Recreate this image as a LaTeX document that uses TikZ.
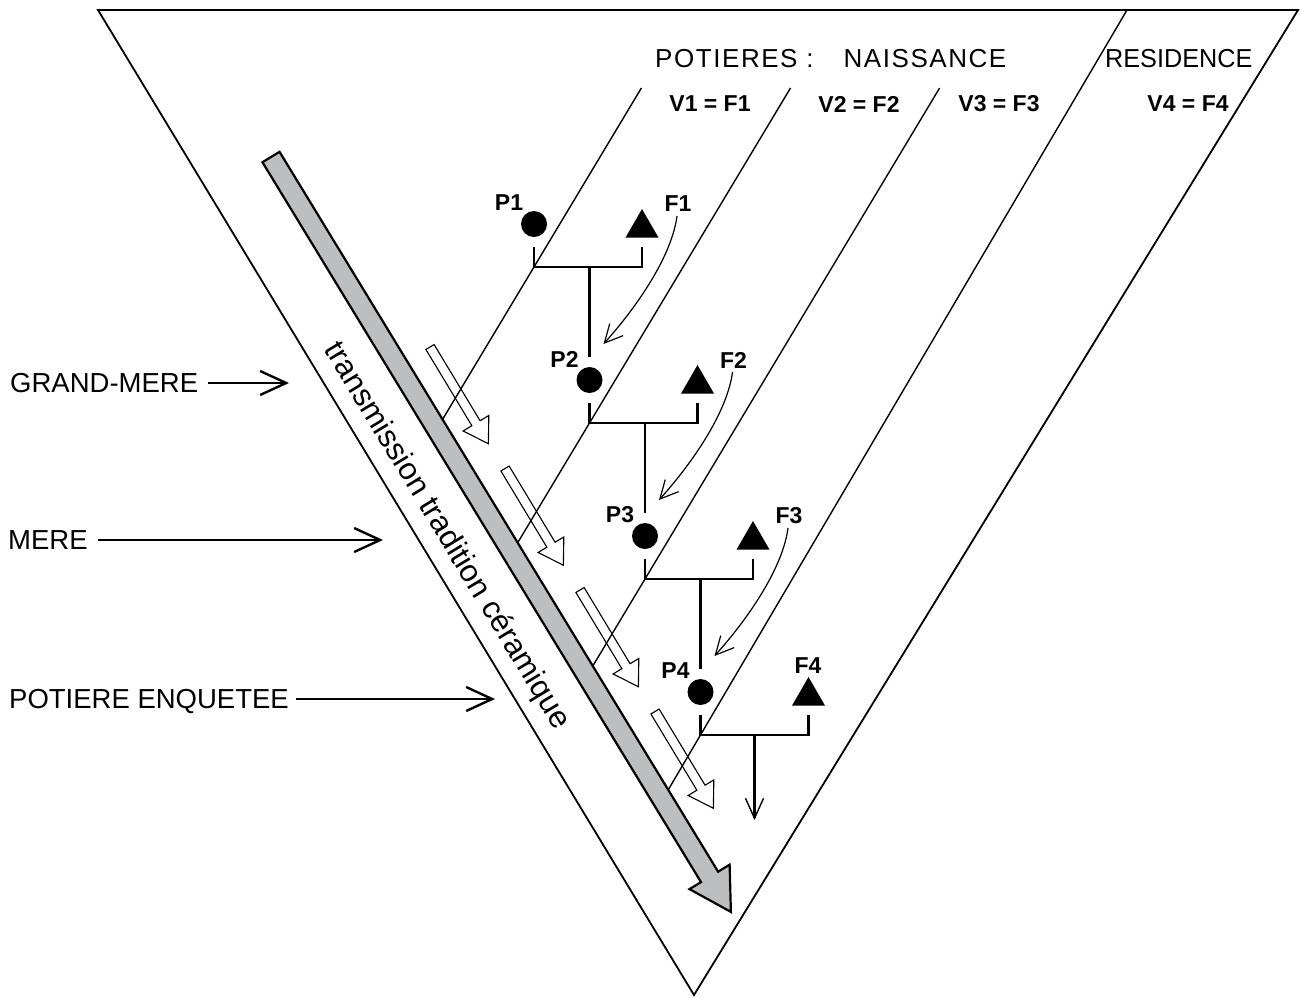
\documentclass[tikz,border=0pt]{standalone}
\usepackage{fontspec}
\setmainfont{Liberation Sans}
\usepackage{graphicx}
\usetikzlibrary{arrows.meta,shapes.geometric,calc}
\definecolor{bandgrey}{HTML}{BCBEC0}
\begin{document}
\begin{tikzpicture}[x=1pt,y=-1pt,
  frame/.style={line width=1.8pt, line join=miter},
  colline/.style={line width=1.4pt},
  bracket/.style={line width=2.4pt},
  pnode/.style={circle, fill=black, minimum size=26pt, inner sep=0pt},
  fnode/.style={regular polygon, regular polygon sides=3, fill=black, minimum size=38pt, inner sep=0pt},
  plabel/.style={font=\fontsize{23}{23}\selectfont\bfseries, inner sep=0pt},
  vlabel/.style={font=\fontsize{23}{23}\selectfont\bfseries, inner sep=0pt},
  toplabel/.style={font=\fontsize{26}{26}\selectfont, inner sep=0pt, text height=18.6pt, text depth=0pt, anchor=west},
  sidelabel/.style={font=\fontsize{27.5}{27.5}\selectfont, inner sep=0pt, text height=19.7pt, text depth=0pt, anchor=west},
  sidearrow/.style={line width=2.4pt, -{Straight Barb[length=26pt,width=24pt,line width=2.4pt]}},
  curvearrow/.style={line width=1.2pt, -{Straight Barb[length=18pt,width=18pt,line width=1.2pt]}},
  downarrow/.style={line width=2.4pt, -{Straight Barb[length=20pt,width=18pt,line width=1.4pt]}},
  hollow/.pic={\draw[line width=1.1pt, line join=miter] (0,-4.8) -- (89,-4.8) -- (89,-15) -- (113,0) -- (89,15) -- (89,4.8) -- (0,4.8) -- cycle;},
]
\useasboundingbox (0,0) rectangle (1300,997);

% outer triangle
\coordinate (tl) at (98,10);
\coordinate (tr) at (1298,10);
\coordinate (apex) at (694,995);
\draw[frame] (tl) -- (tr) -- (apex) -- cycle;

% grey band axis
\coordinate (gtail) at (271,157);
\coordinate (gtip) at (731,912);

% column lines
\coordinate (J1) at (534,267);
\coordinate (J2) at (589.5,423);
\coordinate (J3) at (645,579);
\coordinate (J4) at (700.5,735);
\coordinate (Atop) at (641.4,88);
\coordinate (Btop) at (790.5,88);
\coordinate (Ctop) at (939.6,88);
\coordinate (Dtop) at (1127,10);
\draw[colline] (Atop) -- (intersection of Atop--J1 and gtail--gtip);
\draw[colline] (Btop) -- (intersection of Btop--J2 and gtail--gtip);
\draw[colline] (Ctop) -- (intersection of Ctop--J3 and gtail--gtip);
\draw[colline] (Dtop) -- (intersection of Dtop--J4 and gtail--gtip);

% transmission text
\node[rotate=-58.8, font=\fontsize{31}{31}\selectfont, inner sep=0pt] (trans) at (446.5,536) {transmission tradition céramique};

% grey arrow
\begin{scope}[shift={(gtail)}, rotate=-58.65]
\draw[line width=2.2pt, fill=bandgrey, line join=miter] (0,-10) -- (843,-10) -- (843,-23.5) -- (884,0) -- (843,23.5) -- (843,10) -- (0,10) -- cycle;
\end{scope}

% hollow arrows
\foreach \k in {0,1,2,3}{
  \pic[rotate=-58.9] at (430+75*\k,347+121.5*\k) {hollow};
}

% pottery nodes and brackets
\foreach \k/\px/\py in {1/534/224,2/589.5/380,3/645/536,4/700.5/692}{
  \node[pnode] (P\k) at (\px,\py) {};
  \node[fnode] (F\k) at (\px+108,\py+4) {};
  \node[plabel] (PL\k) at (\px-25,\py-21) {P\k};
  \coordinate (R\k) at (\px+108,\py+43);
  \draw[bracket] ($(P\k)+(0,23)$) -- (J\k) -- (R\k) -- ($(P\k)+(108,23)$);
}
\foreach \k/\px/\py in {1/534/224,2/589.5/380,3/645/536}{
  \node[plabel] (FL\k) at (\px+144,\py-20) {F\k};
}
\node[plabel] (FL4) at (808,666) {F4};

% stems
\foreach \k/\n in {1/2,2/3,3/4}{
  \draw[bracket] (P\n.north |- J\k) -- ($(P\n.north)+(0,-10)$);
  \coordinate (cs\k) at ($(F\k)+(35,-12)$);
  \coordinate (ce\k) at ($(P\n)+(14,-36)$);
  \draw[curvearrow] (cs\k) .. controls ($(cs\k)+(-5,39)$) and ($(ce\k)+(35,-39)$) .. (ce\k);
}
\coordinate (mid4) at ($(J4)!0.5!(R4)$);
\coordinate (endtip) at ($(mid4)+(0,85)$);
\draw[downarrow] (mid4) -- (endtip);

% side labels
\node[sidelabel] (gm) at (10,383) {GRAND-MERE};
\coordinate (gmtip) at (289,383);
\draw[sidearrow] ([xshift=10pt]gm.east) -- (gmtip);
\node[sidelabel] (mere) at (8,540) {MERE};
\coordinate (meretip) at (383,540);
\draw[sidearrow] ([xshift=10pt]mere.east) -- (meretip);
\node[sidelabel] (pe) at (9,699) {POTIERE ENQUETEE};
\coordinate (petip) at (495,699);
\draw[sidearrow] ([xshift=7pt]pe.east) -- (petip);

% top labels
\node[toplabel] (nais) at (655,58) {\addfontfeatures{LetterSpace=6}POTIERES :\hspace{30pt}NAISSANCE};
\node[toplabel] (resid) at (1105,58) {\scalebox{0.97}[1]{RESIDENCE}};
\node[vlabel] (v1) at (710,104) {V1 = F1};
\node[vlabel] (v2) at (859,104) {V2 = F2};
\node[vlabel] (v3) at (999,104) {V3 = F3};
\node[vlabel] (v4) at (1188,104) {V4 = F4};
\end{tikzpicture}
\end{document}
